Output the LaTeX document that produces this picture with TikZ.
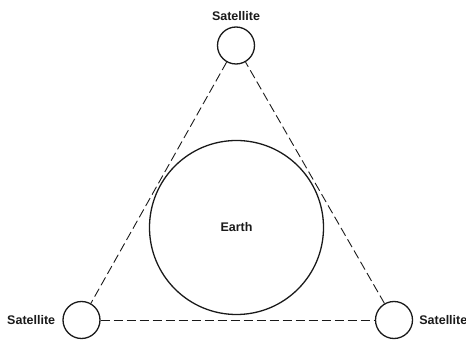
\documentclass[tikz,border=0pt]{standalone}
\usepackage{fontspec}
\setsansfont{Liberation Sans}
\usetikzlibrary{positioning}
\definecolor{ink}{HTML}{1A1A1A}
\tikzset{
  every node/.style={font=\sffamily},
  % --- nodes
  body/.style   = {circle, draw=ink, line width=1.3pt, inner sep=0pt},
  sat/.style    = {body, minimum size=37pt},
  planet/.style = {body, minimum size=174pt, text=ink,
                   font=\sffamily\bfseries\fontsize{12.5}{14}\selectfont},
  lbl/.style    = {inner sep=0pt, text=ink,
                   font=\sffamily\bfseries\fontsize{12.5}{14}\selectfont},
  % --- edges
  link/.style   = {draw=ink, line width=0.9pt, dash pattern=on 9pt off 4pt},
}
\begin{document}
\begin{tikzpicture}[x=1pt,y=1pt]
  \useasboundingbox (0,0) rectangle (466,343);
  % earth and the three satellites
  \node[planet] (earth) at (236.5,115.5) {Earth};
  \node[sat] (satT) at (236,297.5) {};
  \node[sat] (satL) at (81.5,23) {};
  \node[sat] (satR) at (394,23) {};
  % labels
  \node[lbl, above=6pt of satT] (lblT) {Satellite};
  \node[lbl, left=7pt of satL] (lblL) {Satellite};
  \node[lbl, right=6pt of satR] (lblR) {Satellite};
  % links between satellites
  \draw[link] (satT) -- (satL);
  \draw[link] (satL) -- (satR);
  \draw[link] (satR) -- (satT);
\end{tikzpicture}
\end{document}
